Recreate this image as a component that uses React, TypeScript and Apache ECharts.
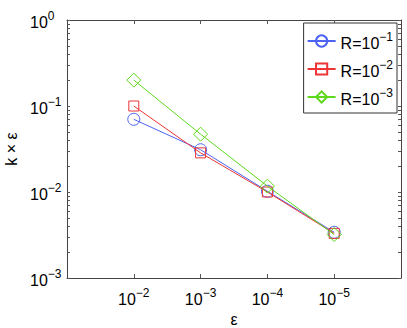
import React, { useEffect, useRef } from "react";
import * as echarts from "echarts";

const epsilons = [1e-2, 1e-3, 1e-4, 1e-5];
const seriesNames = ["R=10^-1", "R=10^-2", "R=10^-3"];
const valuesR1 = [0.07, 0.031, 0.0102, 0.0034];
const valuesR2 = [0.1, 0.0285, 0.01, 0.0033];
const valuesR3 = [0.2, 0.047, 0.0117, 0.0032];
const xTickValues = [1e-2, 1e-3, 1e-4, 1e-5];
const yMajorTicks = [1e-3, 1e-2, 1e-1, 1];

const colors = ["#4d63f2", "#ee3535", "#5ed81c"];
const symbols = ["circle", "rect", "diamond"];
const symbolSizes = [12, 10, 14];

const FONT = "Liberation Sans";

function yMinor(): number[] {
  const out: number[] = [];
  for (let d = -3; d < 0; d++) {
    for (let k = 1; k <= 9; k++) out.push(parseFloat((k * Math.pow(10, d)).toPrecision(3)));
  }
  out.push(1);
  return out;
}

function powLabel(v: number): string {
  const e = Math.round(Math.log10(v));
  const s = e < 0 ? "\u2212" + Math.abs(e) : String(e);
  return "{b|10}{s|" + s + "}";
}

function makeRich() {
  return {
    b: { fontSize: 16, fontFamily: FONT, color: "#000", verticalAlign: "bottom" },
    s: { fontSize: 12, fontFamily: FONT, color: "#000", verticalAlign: "bottom", padding: [0, 0, 8, 0] },
  };
}

export default function App() {
  const ref = useRef<HTMLDivElement>(null);
  useEffect(() => {
    if (!ref.current) return;
    const chart = echarts.init(ref.current, null, { renderer: "svg" });
    const allSeries = [valuesR1, valuesR2, valuesR3];
    const axisLine = { show: true, lineStyle: { color: "#444", width: 1 } };
    const tickStyle = { color: "#555", width: 1 };
    chart.setOption({
      animation: false,
      backgroundColor: "#fff",
      grid: { left: 67, right: 6, top: 20, bottom: 50, containLabel: false, outerBoundsMode: "none" },
      legend: {
        orient: "vertical",
        right: 10,
        top: 23,
        padding: [8, 4, 6, 3],
        itemGap: 8,
        itemWidth: 28,
        itemHeight: 14,
        backgroundColor: "#fff",
        borderColor: "#333",
        borderWidth: 1,
        borderRadius: 0,
        data: seriesNames,
        formatter: (name: string) => {
          const e = name.split("^")[1].replace("-", "\u2212");
          return "{b|R=10}{s|" + e + "}";
        },
        textStyle: { rich: makeRich(), fontSize: 16, fontFamily: FONT, color: "#000" },
      },
      xAxis: [
        {
          type: "log",
          inverse: true,
          min: 1e-6,
          max: 1e-1,
          position: "bottom",
          name: "\u03b5",
          nameLocation: "middle",
          nameGap: 33,
          nameTextStyle: { fontSize: 16, fontFamily: FONT, color: "#000" },
          axisLine,
          splitLine: { show: false },
          axisTick: { show: true, inside: true, length: 4, lineStyle: tickStyle, customValues: xTickValues },
          axisLabel: {
            margin: 9,
            fontSize: 16,
            fontFamily: FONT,
            color: "#000",
            customValues: xTickValues,
            formatter: (v: number) => powLabel(v),
            rich: makeRich(),
          },
        },
        {
          type: "log",
          inverse: true,
          min: 1e-6,
          max: 1e-1,
          position: "top",
          axisLine,
          splitLine: { show: false },
          axisTick: { show: true, inside: true, length: 4, lineStyle: tickStyle, customValues: xTickValues },
          axisLabel: { show: false },
        },
      ],
      yAxis: [
        {
          type: "log",
          min: 1e-3,
          max: 1,
          position: "left",
          name: "k \u00d7 \u03b5",
          nameLocation: "middle",
          nameGap: 43,
          nameTextStyle: { fontSize: 16, fontFamily: FONT, color: "#000" },
          axisLine,
          splitLine: { show: false },
          axisTick: { show: true, inside: true, length: 3, lineStyle: tickStyle, customValues: yMinor() },
          axisLabel: {
            margin: 37,
            align: "left",
            fontSize: 16,
            fontFamily: FONT,
            color: "#000",
            customValues: yMajorTicks,
            formatter: (v: number) => powLabel(v),
            rich: makeRich(),
          },
        },
        {
          type: "log",
          min: 1e-3,
          max: 1,
          position: "right",
          axisLine,
          splitLine: { show: false },
          axisTick: { show: true, inside: true, length: 3, lineStyle: tickStyle, customValues: yMinor() },
          axisLabel: { show: false },
        },
      ],
      series: allSeries.map((vals, i) => ({
        name: seriesNames[i],
        type: "line",
        xAxisIndex: 0,
        yAxisIndex: 0,
        data: epsilons.map((e, j) => [e, vals[j]]),
        symbol: symbols[i],
        symbolSize: symbolSizes[i],
        showSymbol: true,
        lineStyle: { color: colors[i], width: 1 },
        itemStyle: { color: "rgba(0,0,0,0)", borderColor: colors[i], borderWidth: 1 },
        emphasis: { disabled: true },
        z: 2 + i,
      })),
    });
    return () => chart.dispose();
  }, []);
  return <div ref={ref} style={{ width: 407, height: 328, position: "absolute", left: 0, top: 0 }} />;
}
